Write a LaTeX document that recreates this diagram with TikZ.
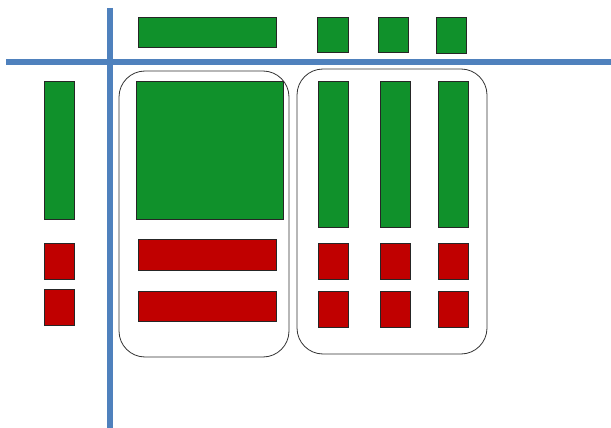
\documentclass[tikz,border=0pt]{standalone}
\usepackage{xcolor}
\usepackage{tikz}
\usetikzlibrary{positioning}

\definecolor{boxgreen}{RGB}{16,145,43}
\definecolor{boxred}{RGB}{192,0,0}
\definecolor{axisblue}{RGB}{79,129,189}

\begin{document}
\begin{tikzpicture}[
    x=1pt, y=-1pt,
    block/.style={draw=black!85, fill=#1, line width=0.8pt, inner sep=0pt, outer sep=0pt, anchor=north west},
    gbox/.style={block=boxgreen},
    rbox/.style={block=boxred},
    group/.style={draw=black!80, rounded corners=26pt, line width=0.8pt, inner sep=0pt, outer sep=0pt, anchor=north west},
    axis/.style={draw=axisblue, line width=6pt},
  ]
  \useasboundingbox (0,0) rectangle (611,428);

  % ---- Axes ----
  \coordinate (vtop) at (110,8);
  \coordinate (vbot) at (110,428);
  \coordinate (hleft) at (6,62);
  \coordinate (hright) at (611,62);
  \draw[axis] (vtop) -- (vbot);
  \draw[axis] (hleft) -- (hright);

  % ---- Top row ----
  \node[gbox, minimum width=138pt, minimum height=30pt] (topwide) at (138,17) {};
  \node[gbox, minimum width=31pt, minimum height=35pt] (topA) at (317,17) {};
  \node[gbox, minimum width=30pt, minimum height=35pt] (topB) at (378,17) {};
  \node[gbox, minimum width=30pt, minimum height=36pt] (topC) at (436,17) {};

  % ---- Left column ----
  \node[gbox, minimum width=30pt, minimum height=138pt] (leftbar) at (44,81) {};
  \node[rbox, minimum width=30pt, minimum height=36pt, below=24pt of leftbar] (leftredA) {};
  \node[rbox, minimum width=30pt, minimum height=36pt, below=10pt of leftredA] (leftredB) {};

  % ---- Group A ----
  \node[group, minimum width=170pt, minimum height=286pt] (groupA) at (119,71) {};
  \node[gbox, minimum width=147pt, minimum height=138pt] (bigsq) at (136,81) {};
  \node[rbox, minimum width=138pt, minimum height=31pt] (wideredA) at (138,239) {};
  \node[rbox, minimum width=138pt, minimum height=30pt] (wideredB) at (138,291) {};

  % ---- Group B ----
  \node[group, minimum width=190pt, minimum height=285pt] (groupB) at (297,69) {};
  \node[gbox, minimum width=30pt, minimum height=146pt] (colA) at (318,81) {};
  \node[rbox, minimum width=30pt, minimum height=36pt, below=16pt of colA] (colAredA) {};
  \node[rbox, minimum width=30pt, minimum height=36pt, below=12pt of colAredA] (colAredB) {};

  \node[gbox, minimum width=30pt, minimum height=146pt] (colB) at (380,81) {};
  \node[rbox, minimum width=30pt, minimum height=36pt, below=16pt of colB] (colBredA) {};
  \node[rbox, minimum width=30pt, minimum height=36pt, below=12pt of colBredA] (colBredB) {};

  \node[gbox, minimum width=30pt, minimum height=146pt] (colC) at (438,81) {};
  \node[rbox, minimum width=30pt, minimum height=36pt, below=16pt of colC] (colCredA) {};
  \node[rbox, minimum width=30pt, minimum height=36pt, below=12pt of colCredA] (colCredB) {};

\end{tikzpicture}
\end{document}
